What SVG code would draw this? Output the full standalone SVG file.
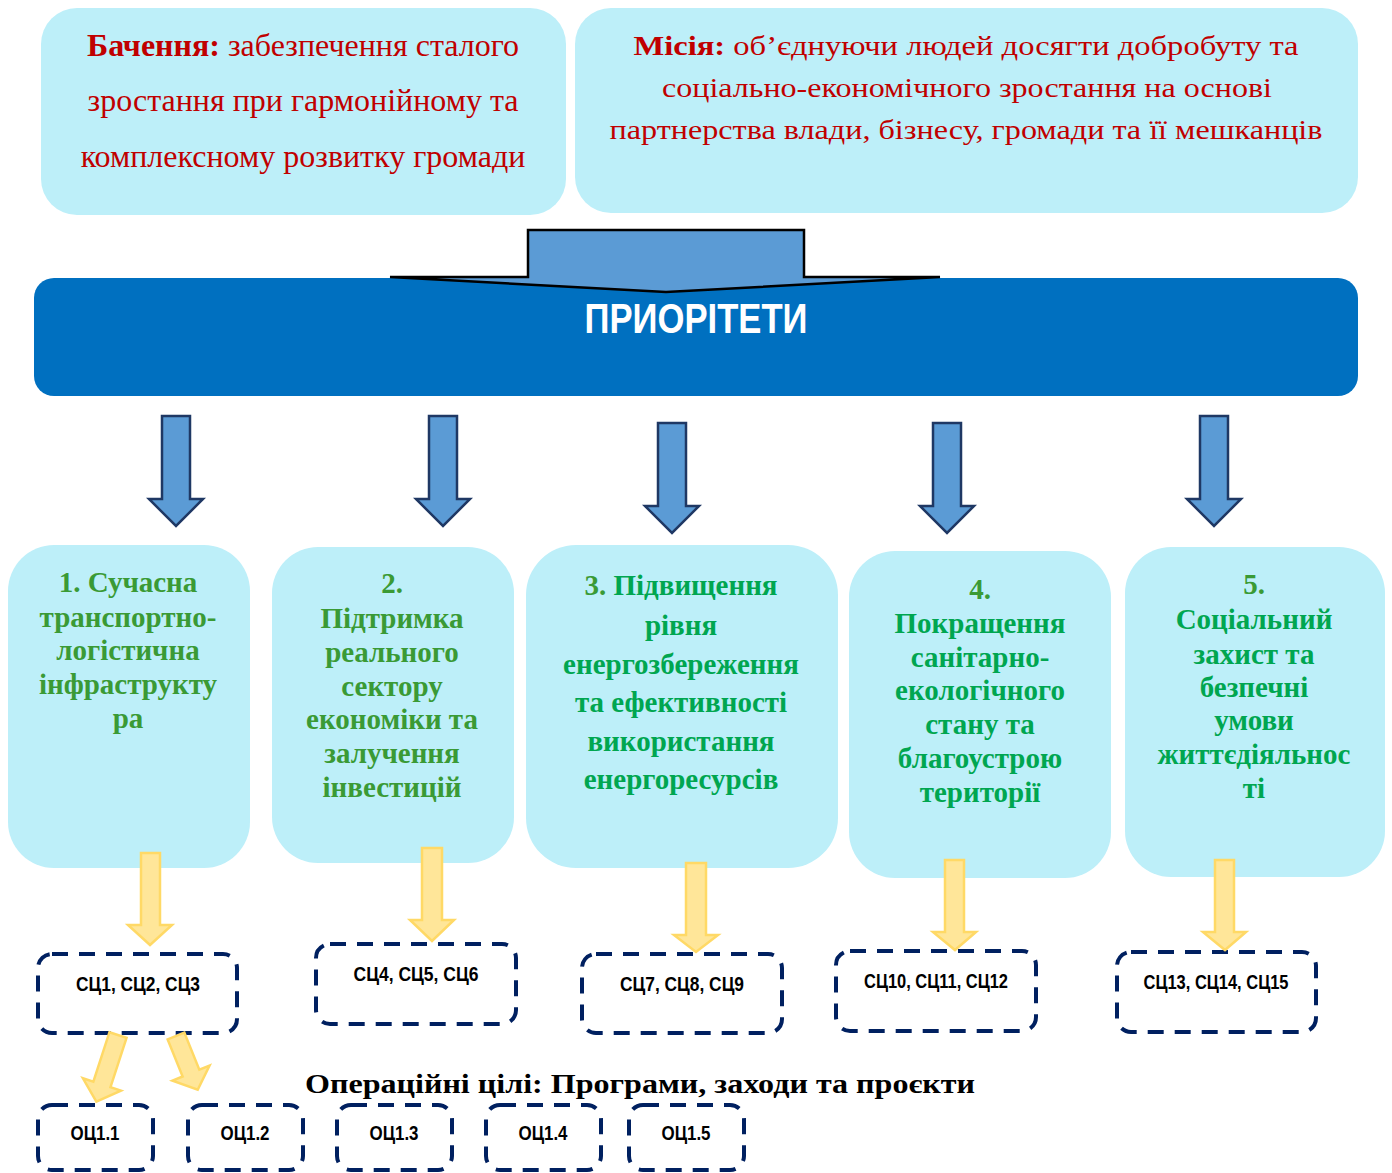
<svg xmlns="http://www.w3.org/2000/svg" width="1392" height="1173" viewBox="0 0 1392 1173">
<style>
.cyan{fill:#BDEFF9;}
.top{font-family:"Liberation Serif",serif;font-size:28px;fill:#C00000;text-anchor:middle;}
.vis{font-size:32px;}
.b{font-weight:bold;}
.pr{font-family:"Liberation Serif",serif;font-size:29px;font-weight:bold;text-anchor:middle;}
.olive{fill:#3A9A35;}
.green{fill:#00A650;}
.barrow{fill:#5B9BD5;stroke:#1F3864;stroke-width:2.5;stroke-linejoin:miter;}
.yarrow{fill:#FFE699;stroke:#FFD966;stroke-width:2.5;}
.dash{fill:none;stroke:#002060;stroke-width:4;stroke-dasharray:16 11;}
.sc{font-family:"Liberation Sans",sans-serif;font-size:21px;font-weight:bold;fill:#000;text-anchor:middle;}
.oc{font-family:"Liberation Sans",sans-serif;font-size:20px;font-weight:bold;fill:#000;text-anchor:middle;}
</style>
<rect width="1392" height="1173" fill="#fff"/>

<g id="vision">
<rect class="cyan" x="41" y="8" width="525" height="207" rx="36"/>
<text class="top vis" x="303" y="56"><tspan class="b">Бачення:</tspan> забезпечення сталого</text>
<text class="top vis" x="303" y="111">зростання при гармонійному та</text>
<text class="top vis" x="303" y="167">комплексному розвитку громади</text>
</g>

<g id="mission">
<rect class="cyan" x="575" y="8" width="783" height="205" rx="36"/>
<text class="top" x="966" y="55" textLength="665" lengthAdjust="spacingAndGlyphs"><tspan class="b">Місія:</tspan> об’єднуючи  людей досягти добробуту та</text>
<text class="top" x="967" y="97" textLength="610" lengthAdjust="spacingAndGlyphs">соціально-економічного зростання на основі</text>
<text class="top" x="966" y="139" textLength="713" lengthAdjust="spacingAndGlyphs">партнерства влади, бізнесу, громади та її мешканців</text>
</g>

<g id="priorities">
<rect x="34" y="278" width="1324" height="118" rx="20" fill="#0070C0"/>
<text x="696" y="333" font-family="Liberation Sans,sans-serif" font-size="43" font-weight="bold" fill="#fff" text-anchor="middle" textLength="223" lengthAdjust="spacingAndGlyphs">ПРИОРІТЕТИ</text>
</g>

<g id="p1">
<rect class="cyan" x="8" y="545" width="242" height="323" rx="46"/>
<text class="pr olive" x="128" y="592">1. Сучасна</text>
<text class="pr olive" x="128" y="627">транспортно-</text>
<text class="pr olive" x="128" y="660">логістична</text>
<text class="pr olive" x="128" y="694">інфраструкту</text>
<text class="pr olive" x="128" y="728">ра</text>
</g>

<g id="p2">
<rect class="cyan" x="272" y="547" width="242" height="316" rx="46"/>
<text class="pr olive" x="392" y="593">2.</text>
<text class="pr olive" x="392" y="628">Підтримка</text>
<text class="pr olive" x="392" y="662">реального</text>
<text class="pr olive" x="392" y="696">сектору</text>
<text class="pr olive" x="392" y="729">економіки та</text>
<text class="pr olive" x="392" y="763">залучення</text>
<text class="pr olive" x="392" y="797">інвестицій</text>
</g>

<g id="p3">
<rect class="cyan" x="526" y="545" width="312" height="323" rx="50"/>
<text class="pr" x="681" y="595"><tspan class="olive">3.</tspan><tspan class="green"> Підвищення</tspan></text>
<text class="pr green" x="681" y="635">рівня</text>
<text class="pr green" x="681" y="674">енергозбереження</text>
<text class="pr green" x="681" y="712">та ефективності</text>
<text class="pr green" x="681" y="751">використання</text>
<text class="pr green" x="681" y="789">енергоресурсів</text>
</g>

<g id="p4">
<rect class="cyan" x="849" y="551" width="262" height="327" rx="46"/>
<text class="pr olive" x="980" y="599">4.</text>
<text class="pr green" x="980" y="633">Покращення</text>
<text class="pr green" x="980" y="667">санітарно-</text>
<text class="pr green" x="980" y="700">екологічного</text>
<text class="pr green" x="980" y="734">стану та</text>
<text class="pr green" x="980" y="768">благоустрою</text>
<text class="pr green" x="980" y="802">території</text>
</g>

<g id="p5">
<rect class="cyan" x="1125" y="547" width="260" height="330" rx="46"/>
<text class="pr olive" x="1254" y="594">5.</text>
<text class="pr green" x="1254" y="629">Соціальний</text>
<text class="pr green" x="1254" y="664">захист та</text>
<text class="pr green" x="1254" y="697">безпечні</text>
<text class="pr green" x="1254" y="730">умови</text>
<text class="pr green" x="1254" y="764">життєдіяльнос</text>
<text class="pr green" x="1254" y="798">ті</text>
</g>

<g id="sc1">
<rect class="dash" x="38" y="954" width="199" height="79" rx="14"/>
<text class="sc" x="138" y="991" textLength="124" lengthAdjust="spacingAndGlyphs">СЦ1, СЦ2, СЦ3</text>
</g>
<g id="sc2">
<rect class="dash" x="316" y="944" width="200" height="80" rx="14"/>
<text class="sc" x="416" y="981" textLength="125" lengthAdjust="spacingAndGlyphs">СЦ4, СЦ5, СЦ6</text>
</g>
<g id="sc3">
<rect class="dash" x="582" y="954" width="200" height="79" rx="14"/>
<text class="sc" x="682" y="991" textLength="124" lengthAdjust="spacingAndGlyphs">СЦ7, СЦ8, СЦ9</text>
</g>
<g id="sc4">
<rect class="dash" x="836" y="951" width="200" height="80" rx="14"/>
<text class="sc" x="936" y="988" textLength="144" lengthAdjust="spacingAndGlyphs">СЦ10, СЦ11, СЦ12</text>
</g>
<g id="sc5">
<rect class="dash" x="1117" y="952" width="199" height="80" rx="14"/>
<text class="sc" x="1216" y="989" textLength="145" lengthAdjust="spacingAndGlyphs">СЦ13, СЦ14, СЦ15</text>
</g>

<text id="op-label" x="640" y="1093" font-family="Liberation Serif,serif" font-size="28" font-weight="bold" fill="#000" text-anchor="middle" textLength="670" lengthAdjust="spacingAndGlyphs">Операційні цілі: Програми, заходи та проєкти</text>

<g id="oc1"><rect class="dash" x="38" y="1105" width="115" height="65" rx="14"/><text class="oc" x="95" y="1140" textLength="49" lengthAdjust="spacingAndGlyphs">ОЦ1.1</text></g>
<g id="oc2"><rect class="dash" x="188" y="1105" width="115" height="65" rx="14"/><text class="oc" x="245" y="1140" textLength="49" lengthAdjust="spacingAndGlyphs">ОЦ1.2</text></g>
<g id="oc3"><rect class="dash" x="337" y="1105" width="115" height="65" rx="14"/><text class="oc" x="394" y="1140" textLength="49" lengthAdjust="spacingAndGlyphs">ОЦ1.3</text></g>
<g id="oc4"><rect class="dash" x="486" y="1105" width="115" height="65" rx="14"/><text class="oc" x="543" y="1140" textLength="49" lengthAdjust="spacingAndGlyphs">ОЦ1.4</text></g>
<g id="oc5"><rect class="dash" x="629" y="1105" width="115" height="65" rx="14"/><text class="oc" x="686" y="1140" textLength="49" lengthAdjust="spacingAndGlyphs">ОЦ1.5</text></g>

<g id="connectors">
<polygon points="528,230 804,230 804,277 940,277 666,292 390,277 528,277" fill="#5B9BD5" stroke="#000" stroke-width="2.5"/>
<polygon class="barrow" points="162,416 190,416 190,499 203,499 176,526 149,499 162,499"/>
<polygon class="barrow" points="429,416 457,416 457,499 470,499 443,526 416,499 429,499"/>
<polygon class="barrow" points="658,423 686,423 686,506 699,506 672,533 645,506 658,506"/>
<polygon class="barrow" points="933,423 961,423 961,506 974,506 947,533 920,506 933,506"/>
<polygon class="barrow" points="1200,416 1228,416 1228,499 1241,499 1214,526 1187,499 1200,499"/>

<polygon class="yarrow" points="141,853 160,853 160,925 172,925 150,945 128,925 141,925"/>
<polygon class="yarrow" points="422,848 442,848 442,920 454,920 432,941 410,920 422,920"/>
<polygon class="yarrow" points="686,863 706,863 706,935 718,935 696,952 674,935 686,935"/>
<polygon class="yarrow" points="945,860 964,860 964,932 976,932 955,950 933,932 945,932"/>
<polygon class="yarrow" points="1215,860 1234,860 1234,932 1246,932 1225,950 1203,932 1215,932"/>

<polygon class="yarrow" transform="translate(118,1035) rotate(18)" points="-9,0 9,0 9,52 20,52 0,70 -20,52 -9,52"/>
<polygon class="yarrow" transform="translate(176,1036) rotate(-22)" points="-9,0 9,0 9,40 20,40 0,58 -20,40 -9,40"/>
</g>
</svg>
